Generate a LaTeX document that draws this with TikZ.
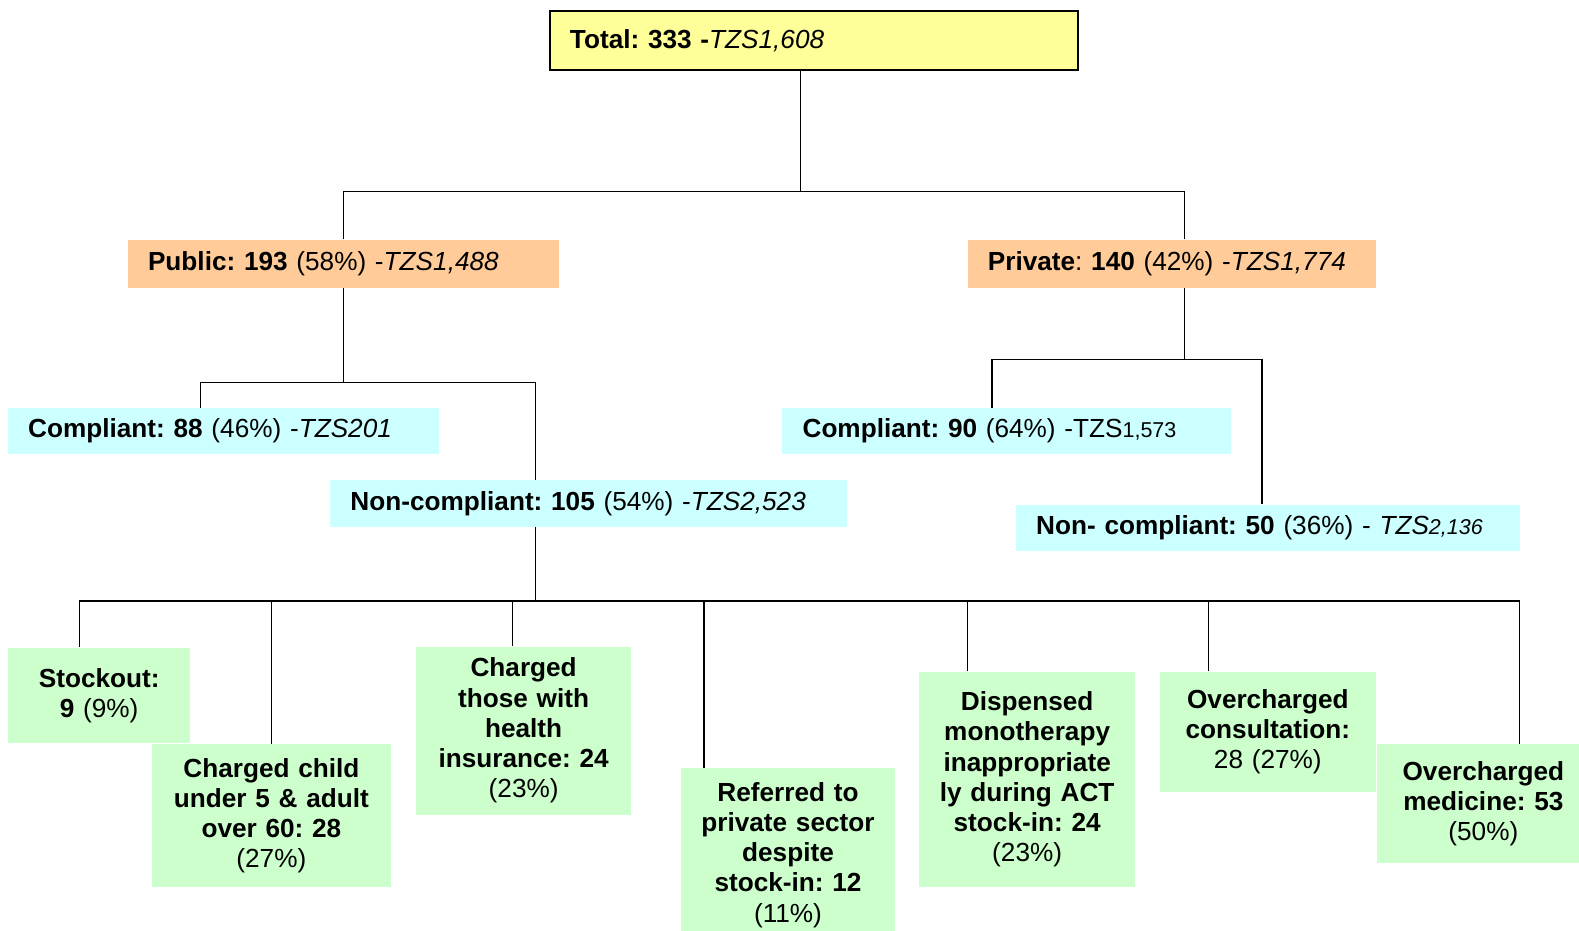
\documentclass[tikz,border=0pt]{standalone}
\usepackage{fontspec}
\setmainfont{Liberation Sans}
\frenchspacing
\definecolor{cyellow}{HTML}{FFFF99}
\definecolor{corange}{HTML}{FFCC99}
\definecolor{ccyan}{HTML}{CCFFFF}
\definecolor{cgreen}{HTML}{CCFFCC}
\begin{document}
\begin{tikzpicture}[x=0.75pt,y=-0.75pt,
  every node/.style={font=\fontsize{19.5}{22.5}\selectfont},
  tbox/.style={inner xsep=15pt, inner ysep=0pt, align=left, anchor=center},
  gbox/.style={fill=cgreen, inner xsep=5pt, inner ysep=0pt, align=center, anchor=center, font=\fontsize{19.5}{22.5}\selectfont\bfseries},
  conn/.style={draw=black, line width=1.1pt}]
\useasboundingbox (0,0) rectangle (1568,924);
\fill[white] (0,0) rectangle (1568,924);

% level 0
\node[tbox, draw, line width=1.5pt, fill=cyellow, minimum width=393pt, minimum height=44.25pt, text width=363pt] (total) at (808,40.5)
  {\textbf{Total: 333 -}\textit{TZS1,608}};
% level 1
\node[tbox, fill=corange, minimum width=321pt, minimum height=36pt, text width=291pt] (public) at (341,262)
  {\textbf{Public: 193} (58\%) -\textit{TZS1,488}};
\node[tbox, fill=corange, minimum width=303.75pt, minimum height=36pt, text width=273.75pt] (private) at (1163.5,262)
  {\textbf{Private}: \textbf{140} (42\%) -\textit{TZS1,774}};
% level 2
\node[tbox, fill=ccyan, minimum width=321pt, minimum height=34.5pt, text width=291pt] (c88) at (222,428)
  {\textbf{Compliant: 88} (46\%) -\textit{TZS201}};
\node[tbox, fill=ccyan, minimum width=384.75pt, minimum height=34.5pt, text width=354.75pt] (nc105) at (584.5,500)
  {\textbf{Non-compliant: 105} (54\%) -\textit{TZS2,523}};
\node[tbox, fill=ccyan, minimum width=333.75pt, minimum height=34.5pt, text width=303.75pt] (c90) at (999.5,428)
  {\textbf{Compliant: 90} (64\%) -TZS{\fontsize{16}{16}\selectfont 1,573}};
\node[tbox, fill=ccyan, minimum width=375pt, minimum height=34.5pt, text width=345pt] (nc50) at (1259,524)
  {\textbf{Non- compliant: 50} (36\%) - \textit{TZS}{\itshape\fontsize{16}{16}\selectfont 2,136}};
% level 3
\node[gbox, minimum width=135.75pt, minimum height=71.25pt, text width=125.75pt] (stock) at (98.5,690.5)
  {Stockout:\\9 \mdseries(9\%)};
\node[gbox, minimum width=177.75pt, minimum height=106.5pt, text width=167.75pt] (child) at (269.5,810)
  {Charged child\\under 5 \& adult\\over 60: 28\\\mdseries(27\%)};
\node[gbox, minimum width=160.5pt, minimum height=125.25pt, text width=150.5pt] (insur) at (520,725.5)
  {Charged\\those with\\health\\insurance: 24\\\mdseries(23\%)};
\node[gbox, minimum width=159.75pt, minimum height=129pt, text width=149.75pt] (refer) at (782.5,849)
  {Referred to\\private sector\\despite\\stock-in: 12\\\mdseries(11\%)};
\node[gbox, minimum width=160.5pt, minimum height=160.5pt, text width=150.5pt] (mono) at (1020,774)
  {Dispensed\\monotherapy\\inappropriate\\ly during ACT\\stock-in: 24\\\mdseries(23\%)};
\node[gbox, minimum width=160.5pt, minimum height=89.25pt, text width=150.5pt] (consult) at (1259,726.5)
  {Overcharged\\consultation:\\\mdseries 28 (27\%)};
\node[gbox, minimum width=159pt, minimum height=88.5pt, text width=149pt] (medic) at (1473,798)
  {Overcharged\\medicine: 53\\\mdseries(50\%)};

% junctions
\coordinate (j1) at (795,190);
\coordinate (j2) at (341,380);
\coordinate (j3) at (1176,357);
\coordinate (j4) at (532,597);

% connectors
\draw[conn] (total.south -| j1) -- (j1);
\draw[conn] (public.north) |- (j1);
\draw[conn] ([xshift=9.375pt]private.north) |- (j1);

\draw[conn] (public.south) -- (j2);
\draw[conn] ([xshift=-17.25pt]c88.north) |- (j2);
\draw[conn] ([xshift=-39.375pt]nc105.north) |- (j2);

\draw[conn] ([xshift=9.375pt]private.south) -- (j3);
\draw[conn] ([xshift=-10.875pt]c90.north) |- (j3);
\draw[conn] ([xshift=-4.5pt]nc50.north) |- (j3);

\draw[conn] ([xshift=-39.375pt]nc105.south) -- (j4);
\draw[conn] ([xshift=-14.625pt]stock.north) |- (j4);
\draw[conn] (child.north) |- (j4);
\draw[conn] ([xshift=-8.25pt]insur.north) |- (j4);
\draw[conn] ([xshift=-62.625pt]refer.north) |- (j4);
\draw[conn] ([xshift=-44.25pt]mono.north) |- (j4);
\draw[conn] ([xshift=-44.25pt]consult.north) |- (j4);
\draw[conn] ([xshift=27pt]medic.north) |- (j4);
\end{tikzpicture}
\end{document}
